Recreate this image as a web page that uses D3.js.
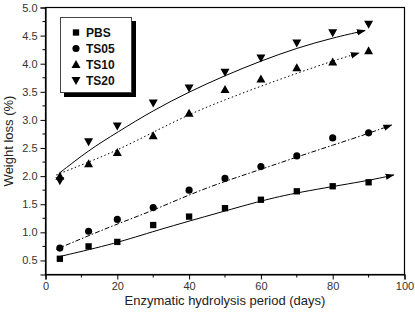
<!DOCTYPE html>
<html>
<head>
<meta charset="utf-8">
<script src="https://cdn.jsdelivr.net/npm/d3@7"></script>
<style>
  body { margin: 0; background: #fff; }
  svg { font-family: Arial, "Liberation Sans", sans-serif; }
</style>
</head>
<body>
<svg id="chart" width="415" height="315"></svg>
<script>
// measured points
const days = [4, 12, 20, 30, 40, 50, 60, 70, 80, 90];
const pbs  = [0.53, 0.75, 0.83, 1.13, 1.28, 1.43, 1.58, 1.73, 1.82, 1.89];
const ts05 = [0.72, 1.02, 1.23, 1.44, 1.75, 1.96, 2.17, 2.36, 2.68, 2.77];
const ts10 = [2.00, 2.22, 2.42, 2.72, 3.12, 3.54, 3.73, 3.93, 4.03, 4.23];
const ts20 = [1.92, 2.61, 2.89, 3.30, 3.57, 3.85, 4.10, 4.37, 4.55, 4.70];

// fitted trend lines
const pbsFitX  = [4, 20, 30, 50, 60, 70, 90, 97];
const pbsFitY  = [0.57, 0.81, 1.02, 1.38, 1.56, 1.71, 1.92, 2.02];
const ts05FitX = [3, 12, 20, 30, 40, 50, 60, 70, 80, 90, 96.4];
const ts05FitY = [0.70, 0.94, 1.15, 1.39, 1.67, 1.91, 2.12, 2.34, 2.55, 2.76, 2.91];
const ts10FitX = [3, 12, 20, 30, 40, 50, 60, 70, 80, 87.3];
const ts10FitY = [2.02, 2.25, 2.46, 2.78, 3.10, 3.36, 3.60, 3.83, 4.05, 4.19];
const ts20FitX = [4, 12, 20, 30, 40, 50, 60, 70, 80, 89];
const ts20FitY = [2.06, 2.46, 2.78, 3.17, 3.50, 3.79, 4.05, 4.28, 4.46, 4.59];

const xTicks = [0, 20, 40, 60, 80, 100];
const yTicks = [0.5, 1.0, 1.5, 2.0, 2.5, 3.0, 3.5, 4.0, 4.5, 5.0];

const svg = d3.select("#chart");
const mLeft = 45.5, mRight = 404.5, mTop = 7.5, mBottom = 274.5;

const x = d3.scaleLinear().domain([0, 100]).range([mLeft, mRight]);
const y = d3.scaleLinear().domain([0.25, 5.0]).range([mBottom, mTop]);

// arrow head
svg.append("defs").append("marker")
  .attr("id", "arrow")
  .attr("viewBox", "0 0 10 10")
  .attr("refX", 9).attr("refY", 5)
  .attr("markerWidth", 9).attr("markerHeight", 9)
  .attr("markerUnits", "userSpaceOnUse")
  .attr("orient", "auto")
  .append("path")
  .attr("d", "M0,1.5 L10,5 L0,8.5 Z")
  .attr("fill", "#000");

// frame
svg.append("rect")
  .attr("x", mLeft).attr("y", mTop)
  .attr("width", mRight - mLeft).attr("height", mBottom - mTop)
  .attr("fill", "none").attr("stroke", "#000").attr("stroke-width", 1.2);

// axes
const xAxis = d3.axisBottom(x).tickValues(xTicks).tickSize(5).tickPadding(3).tickFormat(d3.format("d"));
const gx = svg.append("g").attr("transform", `translate(0,${mBottom})`).call(xAxis);
const yAxis = d3.axisLeft(y).tickValues(yTicks).tickSize(5).tickPadding(3).tickFormat(d3.format(".1f"));
const gy = svg.append("g").attr("transform", `translate(${mLeft},0)`).call(yAxis);
[gx, gy].forEach(g => {
  g.select(".domain").attr("stroke", "#000").attr("stroke-width", 1.2);
  g.selectAll(".tick line").attr("stroke", "#000");
  g.selectAll("text").attr("font-size", 11).attr("fill", "#333").attr("font-family", "Arial, 'Liberation Sans', sans-serif");
});

// minor ticks
const xMinor = d3.range(10, 100, 20);
const yMinor = d3.range(0.75, 5.0, 0.5);
svg.append("g").selectAll("line").data(xMinor).join("line")
  .attr("x1", d => x(d)).attr("x2", d => x(d))
  .attr("y1", mBottom).attr("y2", mBottom + 3)
  .attr("stroke", "#000");
svg.append("g").selectAll("line").data(yMinor).join("line")
  .attr("x1", mLeft - 3).attr("x2", mLeft)
  .attr("y1", d => y(d)).attr("y2", d => y(d))
  .attr("stroke", "#000");

// axis titles
svg.append("text")
  .attr("x", (mLeft + mRight) / 2).attr("y", 305)
  .attr("text-anchor", "middle").attr("font-size", 13).attr("fill", "#222")
  .text("Enzymatic hydrolysis period (days)");
svg.append("text")
  .attr("transform", `translate(13,${(mTop + mBottom) / 2}) rotate(-90)`)
  .attr("text-anchor", "middle").attr("font-size", 13).attr("fill", "#222")
  .text("Weight loss (%)");

// fitted lines
const line = d3.line().x(d => x(d[0])).y(d => y(d[1])).curve(d3.curveBasis);
const fits = [
  { xs: pbsFitX,  ys: pbsFitY,  dash: null },
  { xs: ts05FitX, ys: ts05FitY, dash: "5,2,1.5,2" },
  { xs: ts10FitX, ys: ts10FitY, dash: "1.5,2.5" },
  { xs: ts20FitX, ys: ts20FitY, dash: null }
];
fits.forEach(f => {
  svg.append("path")
    .datum(d3.zip(f.xs, f.ys))
    .attr("d", line)
    .attr("fill", "none")
    .attr("stroke", "#000")
    .attr("stroke-width", 1)
    .attr("stroke-dasharray", f.dash)
    .attr("marker-end", "url(#arrow)");
});

// symbols
const triUp = "M0,-4.5 L4.5,3.5 L-4.5,3.5 Z";
const triDown = "M0,4.5 L4.5,-3.5 L-4.5,-3.5 Z";
const shapes = {
  sq: d3.symbol(d3.symbolSquare, 40)(),
  ci: d3.symbol(d3.symbolCircle, 40)(),
  up: triUp,
  dn: triDown
};
const series = [
  { name: "PBS",  vals: pbs,  shape: shapes.sq },
  { name: "TS05", vals: ts05, shape: shapes.ci },
  { name: "TS10", vals: ts10, shape: shapes.up },
  { name: "TS20", vals: ts20, shape: shapes.dn }
];
series.forEach(s => {
  svg.append("g").selectAll("path").data(d3.zip(days, s.vals)).join("path")
    .attr("transform", d => `translate(${x(d[0])},${y(d[1])})`)
    .attr("d", s.shape)
    .attr("fill", "#000");
});

// legend
const lg = svg.append("g");
lg.append("rect").attr("x", 64).attr("y", 21).attr("width", 72).attr("height", 76).attr("fill", "#000");
lg.append("rect").attr("x", 60.5).attr("y", 17.5).attr("width", 71).attr("height", 75)
  .attr("fill", "#fff").attr("stroke", "#444").attr("stroke-width", 1);
series.forEach((s, i) => {
  const yy = 32.5 + i * 16;
  lg.append("path").attr("transform", `translate(76,${yy})`).attr("d", s.shape).attr("fill", "#000");
  lg.append("text").attr("x", 86).attr("y", yy + 4.5)
    .attr("font-size", 12).attr("font-weight", "bold").attr("fill", "#111")
    .text(s.name);
});
</script>
</body>
</html>
